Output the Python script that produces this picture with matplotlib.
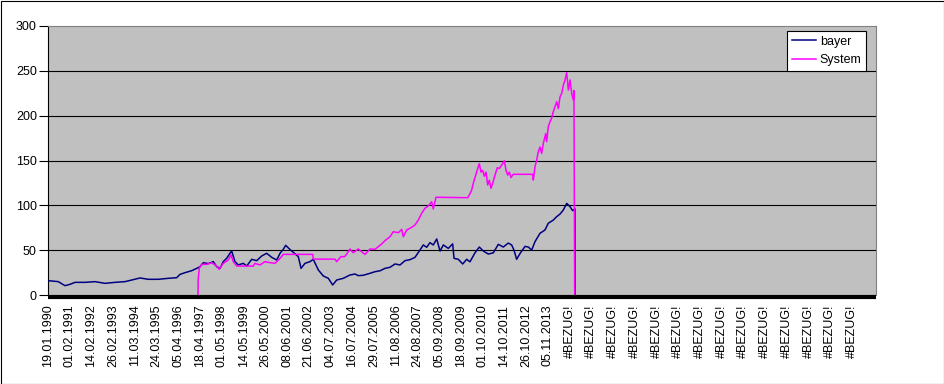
import matplotlib
matplotlib.use("Agg")
import matplotlib.pyplot as plt
from matplotlib.patches import Rectangle
from matplotlib.transforms import ScaledTranslation

plt.rcParams['font.family'] = ['Liberation Sans', 'DejaVu Sans']

# ---- data ----
tick_labels = ["19.01.1990", "01.02.1991", "14.02.1992", "26.02.1993", "11.03.1994",
               "24.03.1995", "05.04.1996", "18.04.1997", "01.05.1998", "14.05.1999",
               "26.05.2000", "08.06.2001", "21.06.2002", "04.07.2003", "16.07.2004",
               "29.07.2005", "11.08.2006", "24.08.2007", "05.09.2008", "18.09.2009",
               "01.10.2010", "14.10.2011", "26.10.2012", "05.11.2013"] + ["#BEZUG!"] * 14
rows_per_label = 270
n_rows = 10288

bayer_rows = [0, 128, 211, 273, 335, 460, 584, 708, 832, 957, 1040, 1143, 1246, 1370, 1495,
              1599, 1640, 1702, 1785, 1848, 1889, 1930, 1992, 2054, 2096, 2137, 2178, 2220,
              2261, 2282, 2323, 2364, 2427, 2469, 2531, 2593, 2655, 2717, 2780, 2842, 2883,
              2924, 2953, 3007, 3048, 3110, 3144, 3193, 3255, 3296, 3359, 3421, 3483, 3537,
              3587, 3669, 3752, 3814, 3855, 3918, 4001, 4063, 4125, 4187, 4249, 4312, 4374,
              4436, 4498, 4560, 4622, 4663, 4705, 4746, 4787, 4830, 4871, 4912, 4974, 5028,
              5045, 5098, 5153, 5202, 5243, 5305, 5359, 5409, 5471, 5533, 5595, 5657, 5719,
              5761, 5790, 5823, 5865, 5927, 5968, 6010, 6051, 6113, 6175, 6216, 6279, 6321,
              6362, 6403, 6445, 6486, 6519, 6548, 6549]
bayer_vals = [16.0, 14.9, 10.4, 11.9, 14.1, 14.1, 14.9, 13.0, 14.1, 14.9, 16.7, 19.0, 17.5,
              17.5, 18.6, 19.3, 23.0, 24.9, 27.1, 29.7, 31.6, 36.0, 35.0, 37.2, 31.6, 29.7,
              37.2, 40.9, 46.5, 49.1, 37.2, 33.5, 35.3, 32.3, 39.8, 38.3, 43.5, 46.5, 42.0,
              39.0, 46.5, 51.0, 55.4, 50.7, 47.6, 42.8, 29.7, 35.3, 37.2, 39.8, 27.9, 21.2,
              18.6, 11.2, 16.7, 18.6, 22.3, 23.4, 21.6, 22.0, 24.2, 26.0, 27.0, 29.7, 30.9,
              34.6, 33.5, 38.3, 39.4, 42.0, 50.2, 55.8, 53.2, 58.4, 55.8, 62.5, 49.0, 55.8,
              52.0, 57.0, 40.9, 39.8, 34.6, 39.8, 37.0, 47.0, 53.5, 49.0, 45.7, 47.0, 56.5,
              53.5, 57.9, 55.8, 50.0, 39.8, 46.3, 54.2, 53.5, 50.1, 59.5, 68.8, 72.5, 80.0,
              83.6, 87.4, 90.3, 94.8, 102.2, 98.5, 94.0, 96.0, 0.0]

system_rows = [1864, 1865, 1880, 1910, 1972, 2034, 2096, 2125, 2178, 2240, 2274, 2302,
               2345, 2407, 2551, 2572, 2634, 2696, 2758, 2820, 2883, 2924, 3289, 3296, 3566,
               3587, 3640, 3683, 3703, 3752, 3793, 3855, 3897, 3939, 4001, 4063, 4104, 4146,
               4187, 4249, 4291, 4353, 4395, 4415, 4457, 4519, 4560, 4601, 4643, 4684, 4725,
               4767, 4787, 4821, 5215, 5243, 5264, 5284, 5305, 5326, 5346, 5359, 5380, 5401,
               5421, 5442, 5463, 5483, 5504, 5525, 5554, 5583, 5607, 5637, 5670, 5691, 5712,
               5732, 5753, 5774, 5782, 6010, 6022, 6030, 6051, 6072, 6092, 6113, 6134, 6154,
               6184, 6196, 6216, 6237, 6258, 6278, 6299, 6321, 6341, 6362, 6383, 6403, 6424,
               6445, 6465, 6486, 6507, 6527, 6535, 6544]
system_vals = [0.0, 16.0, 30.0, 34.2, 34.2, 36.0, 32.3, 28.6, 35.3, 39.0, 44.6, 37.2,
               32.3, 32.3, 32.3, 35.3, 33.5, 37.2, 36.1, 35.3, 40.9, 45.3, 45.3, 40.0, 40.0,
               37.2, 42.8, 42.7, 44.6, 51.3, 47.2, 51.3, 48.3, 45.3, 51.3, 51.0, 53.9, 56.9,
               60.6, 65.0, 70.6, 69.5, 73.2, 65.0, 72.5, 75.5, 78.1, 83.6, 91.1, 96.7, 99.3,
               104.0, 96.0, 109.0, 108.5, 113.0, 117.0, 124.5, 131.0, 137.0, 143.0, 146.5,
               137.0, 139.0, 132.5, 137.0, 122.7, 128.0, 119.0, 124.5, 133.8, 142.0, 141.0,
               145.0, 149.8, 139.0, 133.8, 137.0, 131.0, 133.8, 134.6, 134.6, 134.6, 128.2,
               143.0, 150.5, 159.8, 165.0, 158.0, 169.0, 180.0, 171.0, 187.7, 193.0, 197.5,
               204.4, 210.0, 215.6, 208.0, 221.0, 224.9, 234.0, 239.8, 248.0, 228.6, 239.8,
               224.9, 217.5, 228.0, 0.0]

y_ticks = [0, 50, 100, 150, 200, 250, 300]

# ---- figure ----
W, H = 945, 384
fig = plt.figure(figsize=(W / 100, H / 100), dpi=100)
fig.patch.set_facecolor('white')
fig.patches.append(Rectangle((0.5 / W, 0.5 / H), 1 - 1.5 / W, 1 - 1.5 / H,
                             transform=fig.transFigure, fill=False,
                             edgecolor='black', linewidth=0.8))

left, right, top, bottom = 48, 876, 26, 295
ax = fig.add_axes([left / W, (H - bottom) / H, (right - left) / W, (bottom - top) / H])
ax.set_facecolor('#C0C0C0')

for yv in y_ticks[1:-1]:
    ax.axhline(yv, color='black', linewidth=0.8, zorder=1)

ax.plot(bayer_rows, bayer_vals, color='#000080', linewidth=1.1, label='bayer', zorder=3)
ax.plot(system_rows, system_vals, color='#FF00FF', linewidth=1.1, label='System', zorder=4)

# thick bottom band (axis line)
ax.plot([0, 1], [0, 0], color='black', linewidth=3.0,
        transform=ax.transAxes + ScaledTranslation(0, -2.0 / 100, fig.dpi_scale_trans),
        clip_on=False, zorder=6, solid_capstyle='butt')

ax.set_xlim(0, n_rows)
ax.set_ylim(0, 300)
ax.set_yticks(y_ticks)
ax.set_yticklabels([str(v) for v in y_ticks], fontsize=9)
ax.tick_params(axis='y', direction='out', length=6.5, width=0.8, pad=1.5, color='black')

ax.set_xticks([i * rows_per_label for i in range(len(tick_labels))])
ax.set_xticklabels(tick_labels, rotation=90, fontsize=9)
ax.tick_params(axis='x', length=0, pad=7)

ax.spines['left'].set_color('black')
ax.spines['left'].set_linewidth(0.8)
ax.spines['top'].set_color('#808080')
ax.spines['right'].set_color('#808080')
ax.spines['top'].set_linewidth(0.8)
ax.spines['right'].set_linewidth(0.8)
ax.spines['bottom'].set_visible(False)

leg = ax.legend(loc='upper right', bbox_to_anchor=(866.5 / W, (H - 30.5) / H),
                bbox_transform=fig.transFigure, fontsize=9, frameon=True, fancybox=False,
                framealpha=1, edgecolor='black', borderpad=0.4, handlelength=1.9,
                handletextpad=0.3, labelspacing=0.55, borderaxespad=0)
leg.get_frame().set_linewidth(0.8)

fig.savefig('out.png', dpi=100)
